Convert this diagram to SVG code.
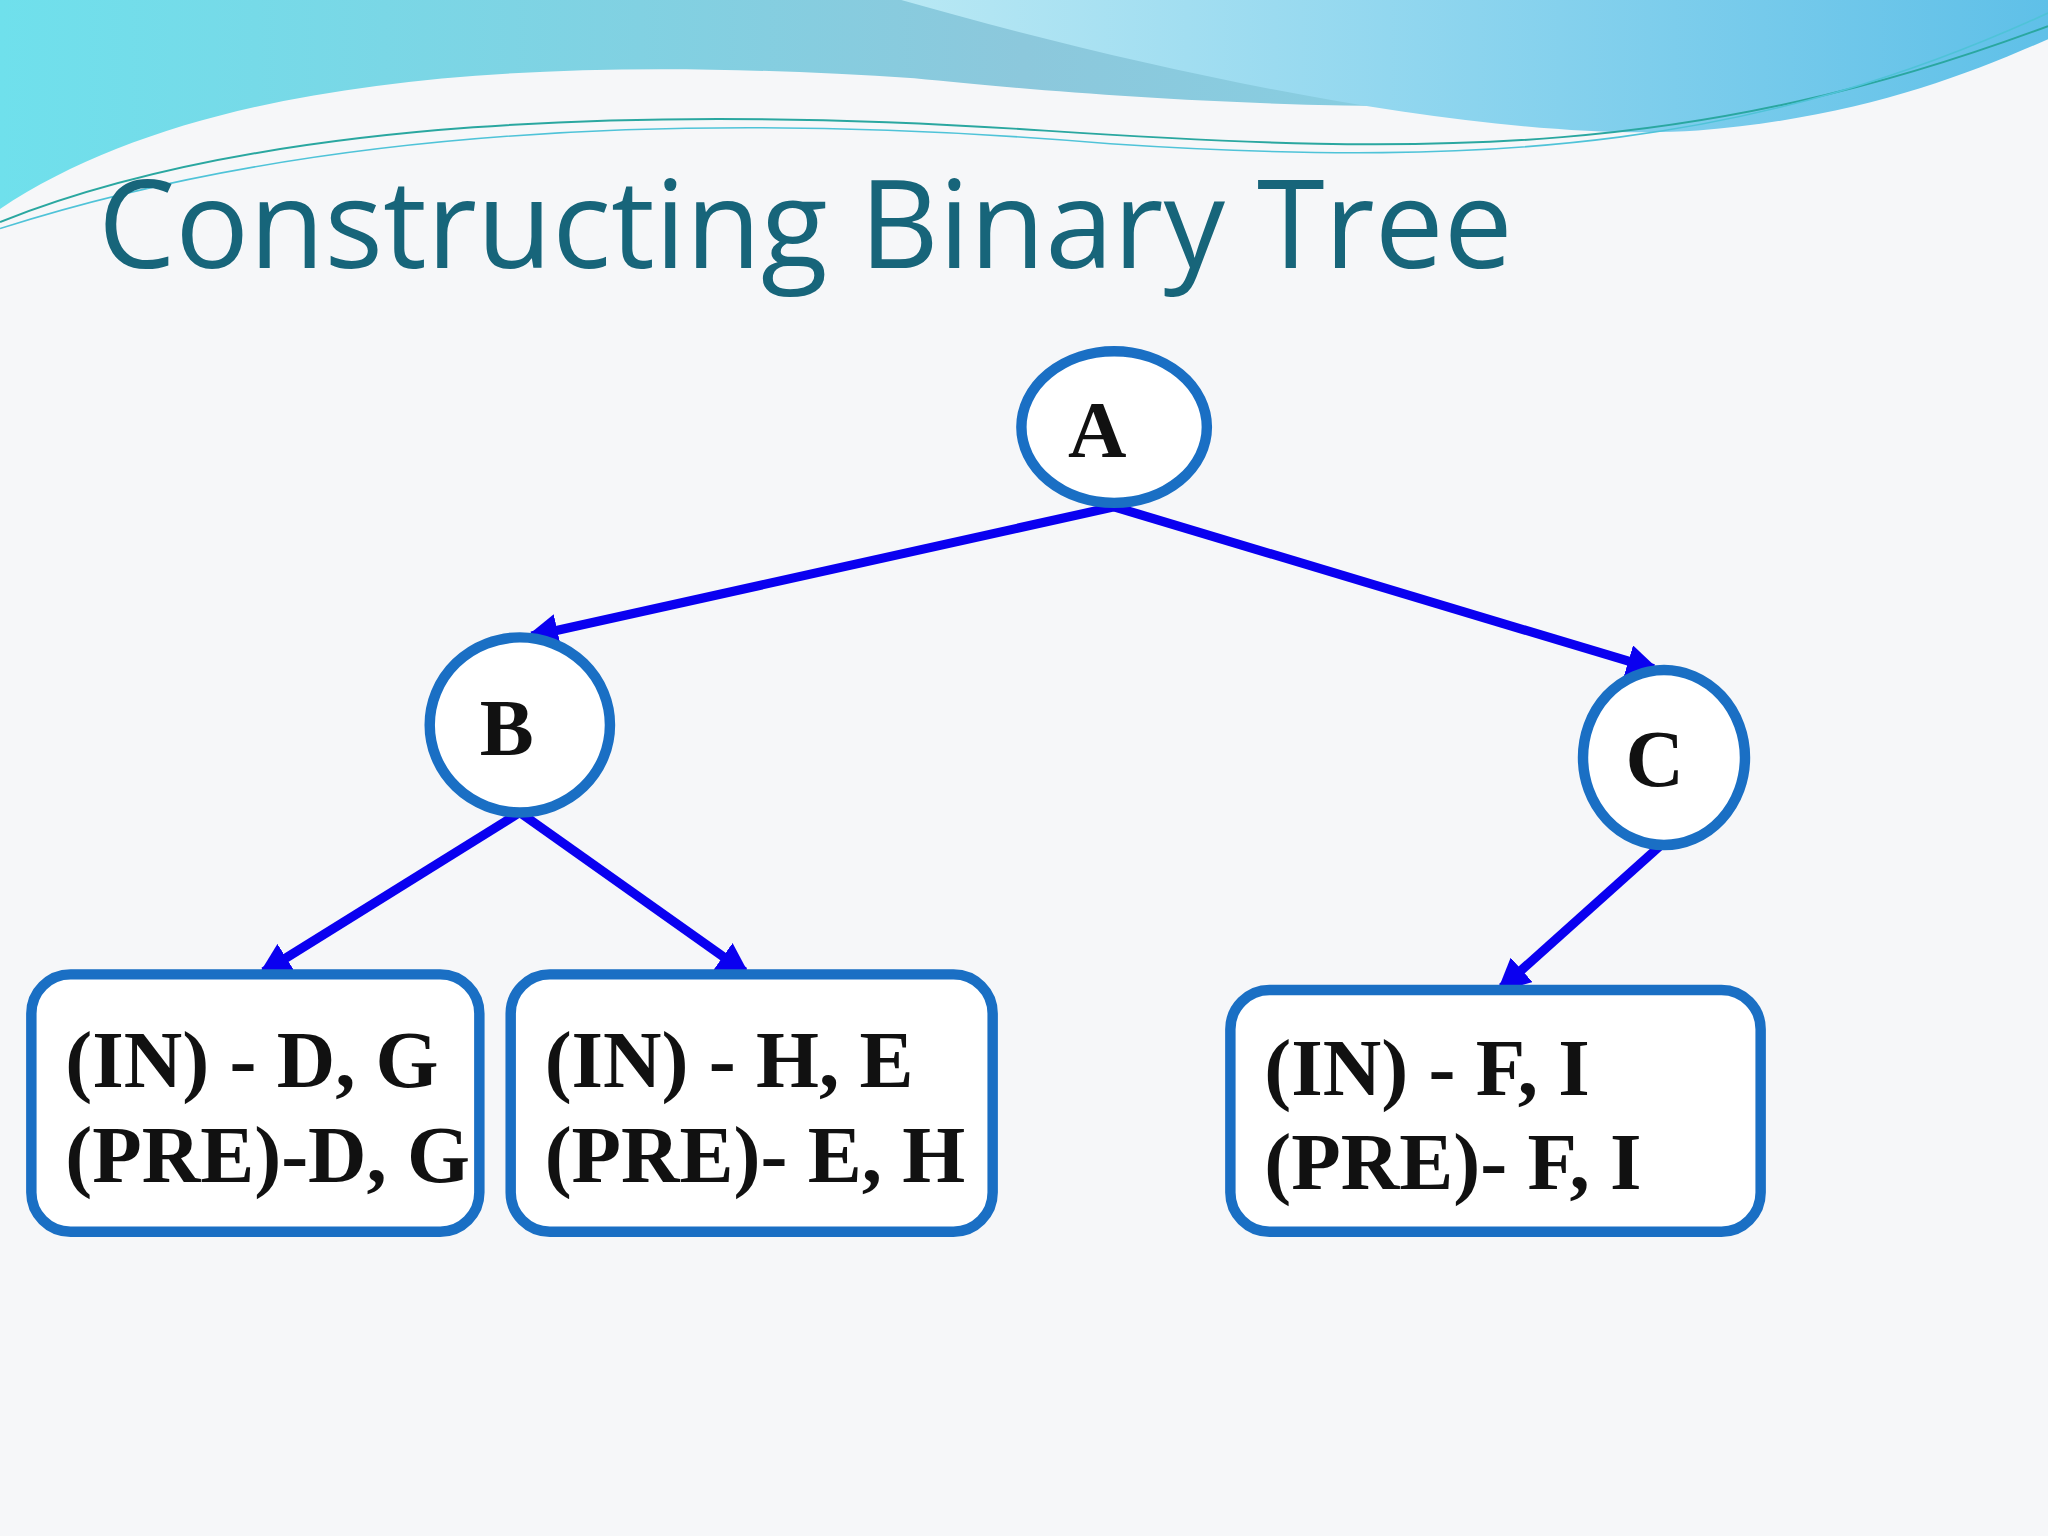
<svg xmlns="http://www.w3.org/2000/svg" width="2048" height="1536" viewBox="0 0 2048 1536">
<defs>
<linearGradient id="w1" x1="0" y1="0" x2="1" y2="0"><stop offset="0" stop-color="#6fe0ec"/><stop offset="0.5" stop-color="#8cc8dc"/><stop offset="1" stop-color="#7fd8ea"/></linearGradient>
<linearGradient id="w2" x1="0" y1="0" x2="1" y2="0"><stop offset="0" stop-color="#b8e8f4"/><stop offset="1" stop-color="#5fc0e8"/></linearGradient>
<marker id="ah" viewBox="0 0 10 10" refX="8" refY="5" markerWidth="3.6" markerHeight="3.6" orient="auto"><path d="M0,0 L10,5 L0,10 z" fill="#0a00f0"/></marker>
<style>
.n{fill:#fff;stroke:#1a6fc4;stroke-width:8}
.lbl{font-family:"Liberation Serif",serif;font-weight:bold;font-size:62px;fill:#111}
.e{stroke:#0a00f0;stroke-width:7;fill:none;marker-end:url(#ah)}
</style>
</defs>
<g transform="scale(1.30612)">
<rect width="1568" height="1176" fill="#f6f7f9"/>
<path d="M0,0 H1568 V20 C1300,110 900,80 700,60 C400,40 150,60 0,160 Z" fill="url(#w1)"/>
<path d="M690,0 C900,60 1150,110 1300,100 C1420,90 1500,60 1568,30 V0 Z" fill="url(#w2)"/>
<path d="M0,170 C200,90 500,80 800,100 C1100,120 1300,120 1568,20" stroke="#2aa7a0" stroke-width="1.5" fill="none"/>
<path d="M0,175 C250,95 550,85 850,110 C1150,130 1350,110 1568,10" stroke="#4fc3d8" stroke-width="1.2" fill="none"/>
<text x="75" y="205" font-family="'Open Sans',sans-serif" font-size="94" fill="#17657a">Constructing Binary Tree</text>
<g id="connectors">
<line class="e" x1="853" y1="388" x2="407" y2="487"/>
<line class="e" x1="853" y1="388" x2="1266" y2="512"/>
<line class="e" x1="398" y1="622" x2="202" y2="744"/>
<line class="e" x1="398" y1="622" x2="570" y2="744"/>
<line class="e" x1="1274" y1="645" x2="1150" y2="756"/>
</g>
<g id="A"><ellipse class="n" cx="853" cy="327" rx="71" ry="58"/><text class="lbl" x="840" y="350" text-anchor="middle">A</text></g>
<g id="B"><ellipse class="n" cx="398" cy="555" rx="69" ry="67"/><text class="lbl" x="388" y="578" text-anchor="middle">B</text></g>
<g id="C"><ellipse class="n" cx="1274" cy="580" rx="62" ry="67"/><text class="lbl" x="1267" y="602" text-anchor="middle">C</text></g>
<g id="DG"><rect class="n" x="24" y="746" width="343" height="197" rx="30"/><text class="lbl" x="50" y="832">(IN) - D, G</text><text class="lbl" x="50" y="905">(PRE)-D, G</text></g>
<g id="HE"><rect class="n" x="391" y="746" width="369" height="197" rx="30"/><text class="lbl" x="417" y="832">(IN) - H, E</text><text class="lbl" x="417" y="905">(PRE)- E, H</text></g>
<g id="FI"><rect class="n" x="942" y="758" width="406" height="185" rx="30"/><text class="lbl" x="968" y="838">(IN) - F, I</text><text class="lbl" x="968" y="910">(PRE)- F, I</text></g>
</g>
</svg>
